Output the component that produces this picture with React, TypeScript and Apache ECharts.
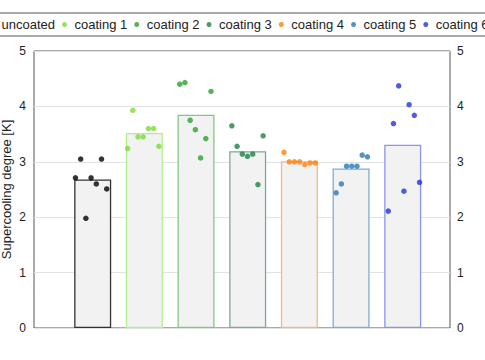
import React, { useEffect, useRef } from "react";
import * as echarts from "echarts";

const categories = ["uncoated", "coating 1", "coating 2", "coating 3", "coating 4", "coating 5", "coating 6"];
const pointColors = ["#000000", "#7ddc3a", "#2ca02c", "#1f7f45", "#ff7f0e", "#2878b5", "#2233dd"];
const barBorders = ["#333333", "#b2ef90", "#84c784", "#75ad8d", "#fcb57a", "#80acd4", "#8c93ec"];
const barMeans = [2.68, 3.52, 3.85, 3.19, 3.01, 2.88, 3.31];
const jitter = [-0.3, -0.2, -0.1, 0, 0.1, 0.2, 0.3];
const uncoated = [2.71, 3.05, 1.98, 2.71, 2.6, 3.05, 2.51];
const coating1 = [3.24, 3.93, 3.45, 3.45, 3.6, 3.6, 3.28];
const coating2 = [4.4, 4.43, 3.75, 3.58, 3.07, 3.42, 4.27];
const coating3 = [3.65, 3.28, 3.14, 3.1, 3.14, 2.59, 3.47];
const coating4 = [3.17, 3.0, 3.0, 3.0, 2.95, 2.98, 2.98];
const coating5 = [2.44, 2.6, 2.92, 2.92, 2.92, 3.12, 3.09];
const coating6 = [2.11, 3.69, 4.37, 2.47, 4.03, 3.84, 2.63];
const samples = [uncoated, coating1, coating2, coating3, coating4, coating5, coating6];
const yTicks = [0, 1, 2, 3, 4, 5];

const FONT = "Liberation Sans";

export default function App() {
  const ref = useRef<HTMLDivElement>(null);
  useEffect(() => {
    if (!ref.current) return;
    const chart = echarts.init(ref.current, null, { renderer: "svg" });
    const yMin = yTicks[0];
    const yMax = yTicks[yTicks.length - 1];
    const scatterSeries = samples.map((vals, i) => ({
      type: "scatter",
      name: categories[i],
      xAxisIndex: 1,
      yAxisIndex: 0,
      symbolSize: 5.5,
      itemStyle: { color: pointColors[i] },
      z: 5,
      data: vals.map((v, k) => [i + jitter[k], v]),
    }));
    chart.setOption({
      animation: false,
      textStyle: { fontFamily: FONT },
      grid: {
        left: 34,
        right: 35,
        top: 51,
        bottom: 32,
        containLabel: false,
        outerBoundsMode: "none",
        show: true,
        borderColor: "#555",
        borderWidth: 1,
      },
      legend: {
        data: categories,
        left: -21,
        top: 13,
        width: 600,
        orient: "horizontal",
        icon: "circle",
        itemWidth: 10,
        itemHeight: 5,
        itemGap: 7,
        padding: [5, 10, 5, 10],
        borderColor: "#555",
        borderWidth: 1,
        textStyle: { fontFamily: FONT, fontSize: 13, color: "#222" },
      },
      xAxis: [
        { type: "value", min: -1.136, max: 6.915, show: false },
        { type: "value", min: -1.095, max: 6.884, show: false },
      ],
      yAxis: [
        {
          type: "value",
          min: yMin,
          max: yMax,
          interval: 1,
          position: "left",
          name: "Supercooling degree [K]",
          nameLocation: "middle",
          nameGap: 21,
          nameMoveOverlap: false,
          nameTextStyle: { fontFamily: FONT, fontSize: 13, color: "#222" },
          axisLine: { show: false },
          axisTick: { show: false },
          axisLabel: { margin: 8, fontFamily: FONT, fontSize: 12, color: "#222" },
          splitLine: { show: true, lineStyle: { color: "#e2e2e2", width: 1 } },
        },
        {
          type: "value",
          min: yMin,
          max: yMax,
          interval: 1,
          position: "right",
          axisLine: { show: false },
          axisTick: { show: false },
          axisLabel: { margin: 7, fontFamily: FONT, fontSize: 12, color: "#222" },
          splitLine: { show: false },
        },
      ],
      series: [
        {
          type: "bar",
          xAxisIndex: 0,
          yAxisIndex: 0,
          barWidth: 37,
          z: 2,
          data: barMeans.map((v, i) => ({
            value: [i, v],
            itemStyle: { color: "#f2f2f2", borderColor: barBorders[i], borderWidth: 1.3 },
          })),
        },
        ...scatterSeries,
      ],
    });
    return () => chart.dispose();
  }, []);
  return (
    <div
      ref={ref}
      style={{ position: "absolute", left: 0, top: 0, width: 485, height: 360 }}
    />
  );
}
